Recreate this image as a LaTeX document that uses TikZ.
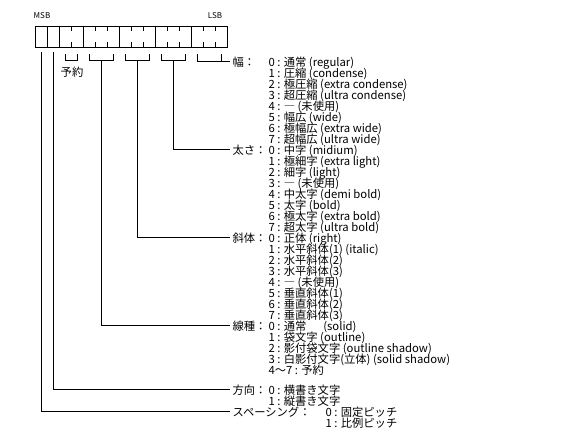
\documentclass[tikz,border=0pt]{standalone}
\usepackage{fontspec}
\setmainfont{Noto Sans CJK JP}
\usetikzlibrary{positioning}
\tikzset{lbl/.style = {anchor=base west,inner sep=2pt,font=\fontsize{11.3}{11}\selectfont},
         lst/.style = {anchor=base west,inner sep=0pt,align=left,
                       font={\fontsize{11.3}{11}\selectfont\lineskiplimit=-20pt\relax}},
         tag/.style = {inner sep=0pt,font=\fontsize{8}{8}\selectfont}}

\begin{document}
\begin{tikzpicture}[x=1pt,y=-1pt,line width=1pt]
                    \useasboundingbox (0,0) rectangle (576,440);

                    % register, 16 bits
                    \draw (35,26) rectangle (227,47);
                    \foreach \x in {47,59,83,119,155,191} \draw (\x,26) -- (\x,47);
                    \foreach \x in {71,95,107,131,143,167,179,203,215} {
                        \draw (\x,26) -- (\x,31);
                        \draw (\x,42) -- (\x,47);
                    }
                    \node [tag] (msb) at (42,16) {MSB};
                    \node [tag] (lsb) at (215,16) {LSB};

                    % brackets
                    \foreach \a/\b in {65/77,89/113,125/149,161/185} \draw (\a,54) |- (\b,60) -- (\b,54);
                    \node [font=\fontsize{11.3}{11}\selectfont,inner sep=0pt] (rsv) at (72,72) {予約};

                    \coordinate (sp)  at (41,52);
                    \coordinate (dir) at (53,52);
                    \coordinate (typ) at (101,60);
                    \coordinate (sla) at (137,60);
                    \coordinate (wgt) at (173,60);
                    \coordinate (wid-l) at (197,54);
                    \coordinate (wid-r) at (221,54);

                    % labels
                    \node [lbl] (lbl-wid) at (230,66)  {幅：};
                    \node [lbl] (lbl-wgt) at (230,154) {太さ：};
                    \node [lbl] (lbl-sla) at (230,242) {斜体：};
                    \node [lbl] (lbl-typ) at (230,330) {線種：};
                    \node [lbl] (lbl-dir) at (230,394) {方向：};
                    \node [lbl] (lbl-sp)  at (230,416) {スペーシング：};

                    % lists (anchored at the base of their last line)
                    \node [lst] (wid-lst) at (268,143) {0 : 通常 (regular)\\1 : 圧縮 (condense)\\2 : 極圧縮 (extra condense)\\3 : 超圧縮 (ultra condense)\\4 : ― (未使用)\\5 : 幅広 (wide)\\6 : 極幅広 (extra wide)\\7 : 超幅広 (ultra wide)};
                    \node [lst] (wgt-lst) at (268,231) {0 : 中字 (midium)\\1 : 極細字 (extra light)\\2 : 細字 (light)\\3 : ― (未使用)\\4 : 中太字 (demi bold)\\5 : 太字 (bold)\\6 : 極太字 (extra bold)\\7 : 超太字 (ultra bold)};
                    \node [lst] (sla-lst) at (268,319) {0 : 正体 (right)\\1 : 水平斜体(1) (italic)\\2 : 水平斜体(2)\\3 : 水平斜体(3)\\4 : ― (未使用)\\5 : 垂直斜体(1)\\6 : 垂直斜体(2)\\7 : 垂直斜体(3)};
                    \node [lst] (typ-lst) at (268,374) {0 : 通常\hspace{1.5em}(solid)\\1 : 袋文字 (outline)\\2 : 影付袋文字 (outline shadow)\\3 : 白影付文字(立体) (solid shadow)\\4～7 : 予約};
                    \node [lst] (dir-lst) at (268,405) {0 : 横書き文字\\1 : 縦書き文字};
                    \node [lst] (sp-lst)  at (325,427) {0 : 固定ピッチ\\1 : 比例ピッチ};

                    % connectors
                    \draw (wid-l) |- (lbl-wid.west);
                    \draw (wid-r) -- (wid-r |- lbl-wid.west);
                    \draw (wgt) |- (lbl-wgt.west);
                    \draw (sla) |- (lbl-sla.west);
                    \draw (typ) |- (lbl-typ.west);
                    \draw (dir) |- (lbl-dir.west);
                    \draw (sp)  |- (lbl-sp.west);
                \end{tikzpicture}
\end{document}
